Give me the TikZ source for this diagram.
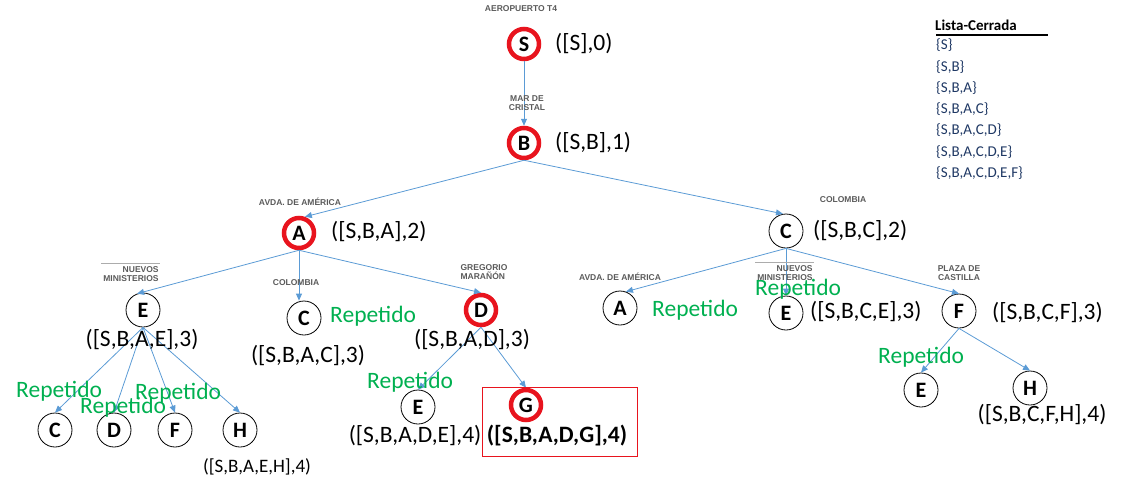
\documentclass[tikz,border=0pt]{standalone}
\usepackage{fontspec}
\setmainfont{Carlito}
\newfontfamily\streetfont{Liberation Sans}
\usetikzlibrary{arrows.meta}
\definecolor{edgeblue}{HTML}{5B9BD5}
\definecolor{repgreen}{HTML}{00B050}
\definecolor{listblue}{HTML}{1F3864}
\definecolor{ringred}{HTML}{E8141E}
\definecolor{streetgray}{HTML}{5A5A5A}
\begin{document}
\begin{tikzpicture}[x=1pt,y=-1pt,
  stnode/.style={circle,draw=black,line width=0.8pt,minimum size=34pt,inner sep=0pt,font=\fontsize{22}{24}\selectfont\bfseries},
  rednode/.style={stnode,draw=ringred,line width=4.5pt,minimum size=30pt},
  lbl/.style={inner sep=0pt,font=\fontsize{23.5}{26}\selectfont},
  rep/.style={lbl,text=repgreen,anchor=west},
  street/.style={inner sep=0pt,text=streetgray,font=\streetfont\bfseries\fontsize{8.5}{9}\selectfont,align=center},
  conn/.style={draw=edgeblue,line width=0.8pt,-{Triangle[length=7pt,width=6pt]}},
  listitem/.style={anchor=west,inner sep=0pt,text=listblue,font=\fontsize{15}{17}\selectfont},
  rule/.style={draw=streetgray!50,line width=0.6pt}]
\useasboundingbox (0,0) rectangle (1124,496);

% tree nodes
\node[rednode] (S) at (524,44) {S};
\node[rednode] (B) at (524,143) {B};
\node[rednode] (A) at (299,233) {A};
\node[stnode] (C) at (786,231) {C};
\node[stnode] (AE) at (143,310) {E};
\node[stnode] (AC) at (304,318) {C};
\node[rednode] (AD) at (481,310) {D};
\node[stnode] (CA) at (620,308) {A};
\node[stnode] (CE) at (786,313) {E};
\node[stnode] (CF) at (959,311) {F};
\node[stnode] (EC) at (55,430) {C};
\node[stnode] (ED) at (114,430) {D};
\node[stnode] (EF) at (175,430) {F};
\node[stnode] (EH) at (240,430) {H};
\node[stnode] (DE) at (418,407) {E};
\node[rednode] (DG) at (526,405) {G};
\node[stnode] (FE) at (921,390) {E};
\node[stnode] (FH) at (1030,388) {H};

% connectors
\draw[conn] (S.south) -- (B.north);
\draw[conn] (B.south) -- (A.70);
\draw[conn] (B.south) -- (C.100);
\draw[conn] (A.south) -- (AE.110);
\draw[conn] (A.south) -- (A.south |- AC.north);
\draw[conn] (A.south) -- (AD.north);
\draw[conn] (C.south) -- (CA.70);
\draw[conn] (C.south) -- (CE.north);
\draw[conn] (C.south) -- (CF.north);
\draw[conn] (AE.south) -- (EC.north);
\draw[conn] (AE.south) -- (ED.north);
\draw[conn] (AE.south) -- (EF.north);
\draw[conn] (AE.south) -- (EH.north);
\draw[conn] (AD.south) -- (DE.north);
\draw[conn] (AD.south) -- (DG.north);
\draw[conn] (CF.south) -- (FE.north);
\draw[conn] (CF.south) -- (FH.north);

% path labels
\node[lbl,anchor=west] (lS) at (555,44) {([S],0)};
\node[lbl,anchor=west] (lB) at (555,143) {([S,B],1)};
\node[lbl,anchor=west] (lA) at (331,232) {([S,B,A],2)};
\node[lbl,anchor=west] (lC) at (813,231) {([S,B,C],2)};
\node[lbl] (lAE) at (142,340) {([S,B,A,E],3)};
\node[lbl] (lAC) at (308,356) {([S,B,A,C],3)};
\node[lbl] (lAD) at (472,340) {([S,B,A,D],3)};
\node[lbl,anchor=west] (lCE) at (810,312) {([S,B,C,E],3)};
\node[lbl,anchor=west] (lCF) at (992,313) {([S,B,C,F],3)};
\node[lbl] (lFH) at (1042,415) {([S,B,C,F,H],4)};
\node[lbl,font=\fontsize{19}{21}\selectfont] (lEH) at (257,467) {([S,B,A,E,H],4)};
\node[lbl] (lDE) at (415,436) {([S,B,A,D,E],4)};
\node[lbl,font=\fontsize{23.5}{26}\selectfont\bfseries] (lDG) at (557,436) {([S,B,A,D,G],4)};
\node[draw=ringred,line width=0.9pt,minimum width=155pt,minimum height=69pt,inner sep=0pt] (goal) at (559.5,421.5) {};

% repeated marks
\node[rep] (rAC) at (330,316) {Repetido};
\node[rep] (rCA) at (652,310) {Repetido};
\node[rep] (rCE) at (755,289) {Repetido};
\node[rep] (rFE) at (878,357) {Repetido};
\node[rep] (rEC) at (16,391) {Repetido};
\node[rep] (rED) at (80,407) {Repetido};
\node[rep] (rEF) at (135,393) {Repetido};
\node[rep] (rDE) at (367,382) {Repetido};

% street labels
\node[street] (sS) at (521,9) {AEROPUERTO T4};
\node[street] (sB) at (527,103) {MAR DE\\CRISTAL};
\node[street] (sA) at (300,202) {AVDA. DE AMÉRICA};
\node[street] (sC) at (843,200) {COLOMBIA};
\node[street,align=right] (sAE) at (131,274) {NUEVOS\\MINISTERIOS};
\node[street] (sAC) at (296,283) {COLOMBIA};
\node[street,align=left] (sAD) at (484,272) {GREGORIO\\MARAÑÓN};
\node[street] (sCA) at (620,277) {AVDA. DE AMÉRICA};
\node[street,align=right] (sCE) at (785,273) {NUEVOS\\MINISTERIOS};
\node[street] (sCF) at (959,273) {PLAZA DE\\CASTILLA};
\draw[rule] ([yshift=3pt,xshift=-2pt]sAE.north west) -- ([yshift=3pt,xshift=1pt]sAE.north east);
\draw[rule] ([yshift=3pt,xshift=-2pt]sCE.north west) -- ([yshift=3pt,xshift=1pt]sCE.north east);

% closed list
\node[anchor=west,inner sep=0pt,font=\fontsize{15}{17}\selectfont\bfseries] (lt) at (935,25) {Lista-Cerrada};
\coordinate (ul1) at (936,35);
\coordinate (ul2) at (1048,35);
\draw[line width=2pt] (ul1) -- (ul2);
\node[listitem] (l1) at (936,45) {\{S\}};
\node[listitem] (l2) at (936,67) {\{S,B\}};
\node[listitem] (l3) at (936,88) {\{S,B,A\}};
\node[listitem] (l4) at (936,109) {\{S,B,A,C\}};
\node[listitem] (l5) at (936,130) {\{S,B,A,C,D\}};
\node[listitem] (l6) at (936,152) {\{S,B,A,C,D,E\}};
\node[listitem] (l7) at (936,173) {\{S,B,A,C,D,E,F\}};
\end{tikzpicture}
\end{document}
